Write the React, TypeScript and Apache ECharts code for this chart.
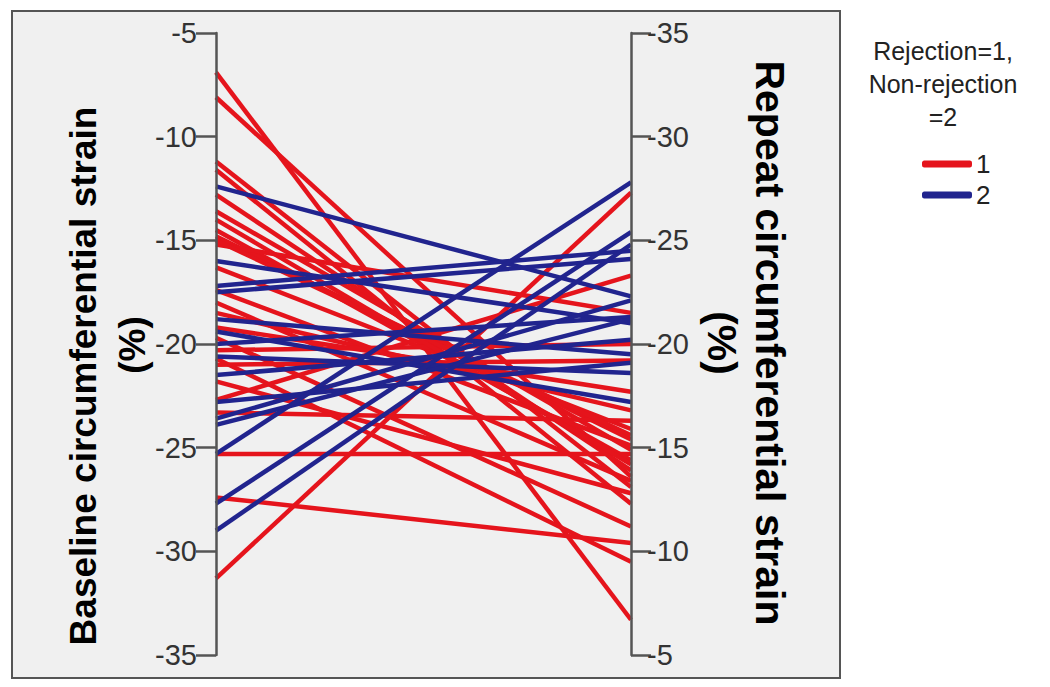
import React, { useEffect, useRef } from "react";
import * as echarts from "echarts";

// Rejection = 1 : [baseline, repeat]
const rejectionBaseline = [-6.9, -8.1, -11.2, -11.6, -12.8, -13.6, -14.5, -14.8, -15.2, -16.3, -18.0, -18.5, -19.2, -19.7, -20.3, -20.7, -21.0, -21.8, -22.7, -23.3, -25.3, -27.4, -31.3, -17.4, -15.0, -14.0];
const rejectionRepeat = [-6.7, -13.6, -13.1, -12.3, -13.9, -14.9, -14.4, -15.4, -21.5, -15.9, -13.4, -16.8, -17.7, -11.2, -20.0, -9.5, -19.2, -12.8, -23.3, -16.3, -14.7, -10.4, -27.3, -15.1, -15.6, -14.2];
// Non-rejection = 2
const nonRejectionBaseline = [-12.4, -16.0, -17.2, -17.5, -18.8, -19.4, -20.0, -20.6, -21.5, -22.8, -23.6, -23.9, -25.3, -27.7, -29.0];
const nonRejectionRepeat = [-22.3, -21.0, -24.5, -24.1, -19.5, -17.2, -21.3, -18.6, -20.2, -19.1, -22.1, -21.2, -27.8, -25.4, -24.8];

const axisTicks = [-35, -30, -25, -20, -15, -10, -5];
const groupNames = ["1", "2"];
const baselineTitle = ["Baseline circumferential strain", "(%)"];
const repeatTitle = ["Repeat circumferential strain", "(%)"];
const legendTitle = "Rejection=1,\nNon-rejection\n=2";

const RED = "#e5141c";
const BLUE = "#21248e";
const FONT = "'Liberation Sans', Arial, sans-serif";

export default function App() {
  const ref = useRef<HTMLDivElement>(null);
  useEffect(() => {
    if (!ref.current) return;
    const chart = echarts.init(ref.current, null, { renderer: "svg" });
    const toPairs = (a: number[], b: number[]) => a.map((v, i) => [v, b[i]]);
    const axisCommon = {
      type: "value",
      min: axisTicks[0],
      max: axisTicks[axisTicks.length - 1],
      interval: 5,
      axisLine: { lineStyle: { color: "#555", width: 2.5 } },
      axisTick: { length: 20, lineStyle: { color: "#555", width: 2.5 } },
      axisLabel: {
        fontSize: 29,
        color: "#333",
        fontFamily: FONT,
        margin: 16,
      },
      splitLine: { show: false },
    };
    const titleText = (
      text: string,
      x: number,
      y: number,
      rot: number,
      size: number
    ) => ({
      type: "text",
      x,
      y,
      rotation: rot,
      style: {
        text,
        font: `bold ${size}px ${FONT}`,
        fill: "#000",
        textAlign: "center",
        textVerticalAlign: "middle",
      },
    });
    chart.setOption({
      animation: false,
      backgroundColor: "#ffffff",
      parallel: {
        left: 216,
        right: 1050 - 631,
        top: 33,
        bottom: 687 - 655,
        layout: "horizontal",
      },
      parallelAxis: [
        {
          dim: 0,
          name: "",
          ...axisCommon,
          axisTick: { ...axisCommon.axisTick, length: -20 },
          axisLabel: {
            ...axisCommon.axisLabel,
            margin: -19,
            align: "right",
            padding: [6, 0, 0, 0],
          },
        },
        {
          dim: 1,
          name: "",
          ...axisCommon,
          inverse: true,
          axisLabel: { ...axisCommon.axisLabel, padding: [14, 0, 0, 0] },
        },
      ],
      legend: {
        data: groupNames,
        orient: "vertical",
        left: 917,
        top: 145,
        itemWidth: 48,
        itemHeight: 5,
        itemGap: 3,
        icon: "roundRect",
        textStyle: {
          fontSize: 26,
          lineHeight: 28,
          color: "#222",
          fontFamily: FONT,
        },
      },
      graphic: [
        {
          type: "rect",
          z: -10,
          shape: { x: 12, y: 11, width: 828, height: 667 },
          style: { fill: "#f0f0f0", stroke: "#555", lineWidth: 2 },
        },
        titleText(baselineTitle[0], 83, 376, Math.PI / 2, 37),
        titleText(baselineTitle[1], 132, 345, Math.PI / 2, 37),
        titleText(repeatTitle[0], 770, 343, -Math.PI / 2, 41),
        titleText(repeatTitle[1], 722, 343, -Math.PI / 2, 41),
        {
          type: "text",
          x: 943,
          y: 84,
          style: {
            text: legendTitle,
            font: `25px ${FONT}`,
            lineHeight: 33,
            fill: "#222",
            textAlign: "center",
            textVerticalAlign: "middle",
          },
        },
      ],
      series: [
        {
          type: "parallel",
          name: groupNames[0],
          color: RED,
          lineStyle: { color: RED, width: 4.5, opacity: 1 },
          emphasis: { disabled: true },
          data: toPairs(rejectionBaseline, rejectionRepeat),
        },
        {
          type: "parallel",
          name: groupNames[1],
          color: BLUE,
          lineStyle: { color: BLUE, width: 4.5, opacity: 1 },
          emphasis: { disabled: true },
          data: toPairs(nonRejectionBaseline, nonRejectionRepeat),
        },
      ],
    });
    return () => chart.dispose();
  }, []);
  return (
    <div
      ref={ref}
      style={{ position: "fixed", left: 0, top: 0, width: 1050, height: 687 }}
    />
  );
}
